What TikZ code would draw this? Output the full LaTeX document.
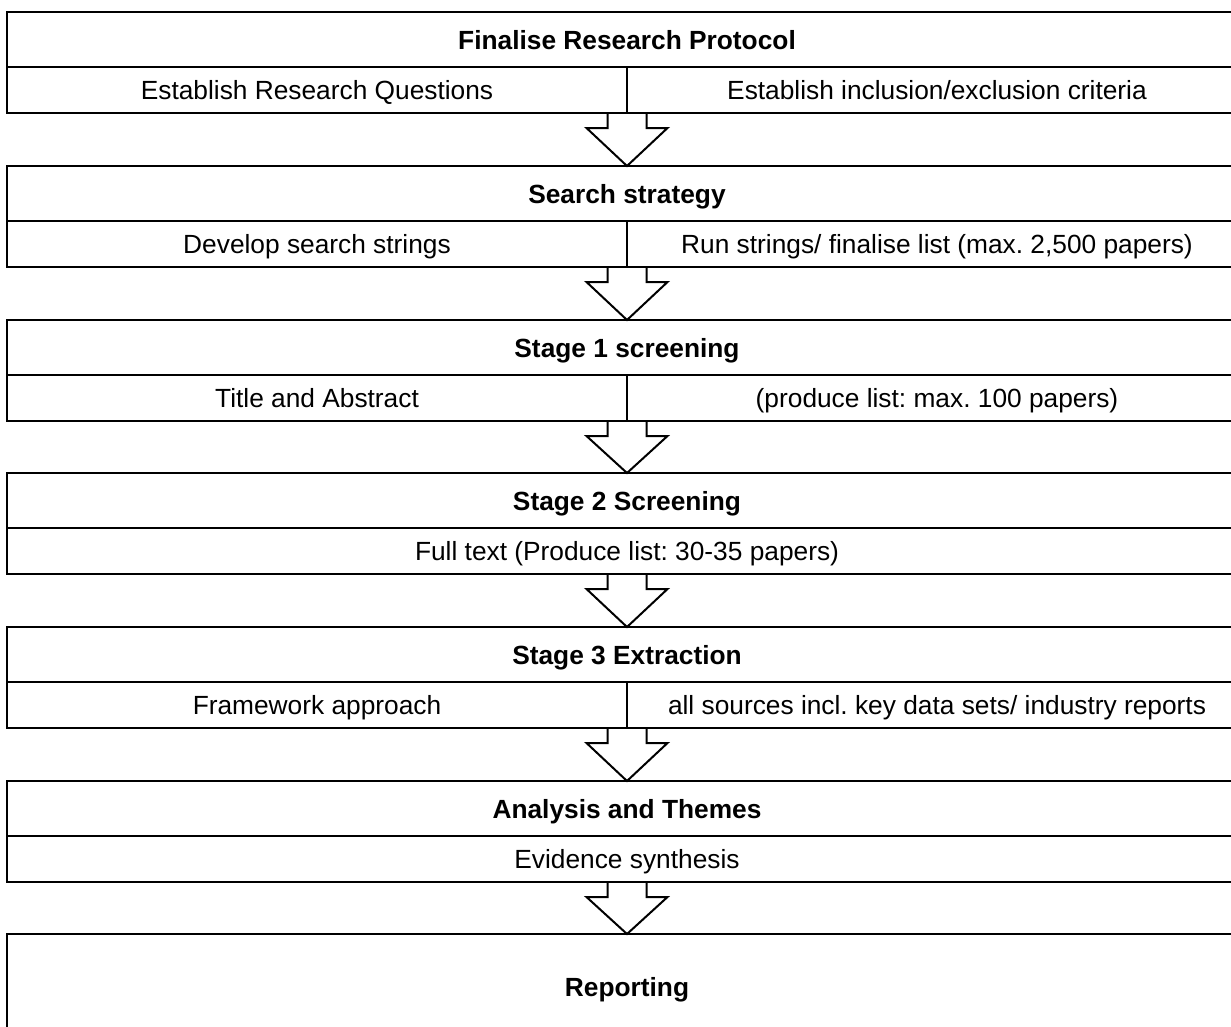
\documentclass[tikz,border=0pt]{standalone}
\usepackage{fontspec}
\setmainfont{Liberation Sans}
\usetikzlibrary{calc}
\frenchspacing
\begin{document}
\begin{tikzpicture}[x=1bp,y=-1bp,
  cell/.style={draw=black, line width=2bp, rectangle, inner sep=0pt, outer sep=0pt,
    anchor=north west, minimum height=46bp, text height=19bp, text depth=0pt,
    font=\fontsize{26.4}{30}\selectfont\frenchspacing},
  fullcell/.style={cell, minimum width=1240bp},
  halfcell/.style={cell, minimum width=620bp},
  hdr/.style={fullcell, minimum height=55bp, font=\fontsize{26.4}{30}\selectfont\bfseries},
  flowarrow/.style={draw=black, line width=2bp, line join=miter}]
\useasboundingbox (0,0) rectangle (1231,1027);
\clip (0,0) rectangle (1231,1027);

% Stage 1
\node[hdr] (h1) at (7,12) {Finalise Research Protocol};
\node[halfcell] (l1) at (7,67) {Establish Research Questions};
\node[halfcell] (r1) at (627,67) {Establish inclusion/exclusion criteria};
\coordinate (s1) at (l1.south east);
% Stage 2
\node[hdr] (h2) at (7,166) {Search strategy};
\node[halfcell] (l2) at (7,221) {Develop search strings};
\node[halfcell] (r2) at (627,221) {Run strings/ finalise list (max. 2,500 papers)};
\coordinate (s2) at (l2.south east);
% Stage 3
\node[hdr] (h3) at (7,320) {Stage 1 screening};
\node[halfcell] (l3) at (7,375) {Title and Abstract};
\node[halfcell] (r3) at (627,375) {(produce list: max. 100 papers)};
\coordinate (s3) at (l3.south east);
% Stage 4
\node[hdr] (h4) at (7,473) {Stage 2 Screening};
\node[fullcell] (f4) at (7,528) {Full text (Produce list: 30-35 papers)};
\coordinate (s4) at (f4.south);
% Stage 5
\node[hdr] (h5) at (7,627) {Stage 3 Extraction};
\node[halfcell] (l5) at (7,682) {Framework approach};
\node[halfcell] (r5) at (627,682) {all sources incl. key data sets/ industry reports};
\coordinate (s5) at (l5.south east);
% Stage 6
\node[hdr] (h6) at (7,781) {Analysis and Themes};
\node[fullcell] (f6) at (7,836) {Evidence synthesis};
\coordinate (s6) at (f6.south);
% Stage 7
\node[hdr, minimum height=106bp] (h7) at (7,934) {Reporting};

% Block arrows
\foreach \a/\b in {s1/h2, s2/h3, s3/h4, s4/h5, s5/h6, s6/h7} {
  \draw[flowarrow] ($(\a)+(-19.5,0)$) -- ($(\a)+(-19.5,15)$) -- ($(\a)+(-40.5,15)$)
    -- (\b.north) -- ($(\a)+(40.5,15)$) -- ($(\a)+(19.5,15)$) -- ($(\a)+(19.5,0)$);
}
\end{tikzpicture}
\end{document}
